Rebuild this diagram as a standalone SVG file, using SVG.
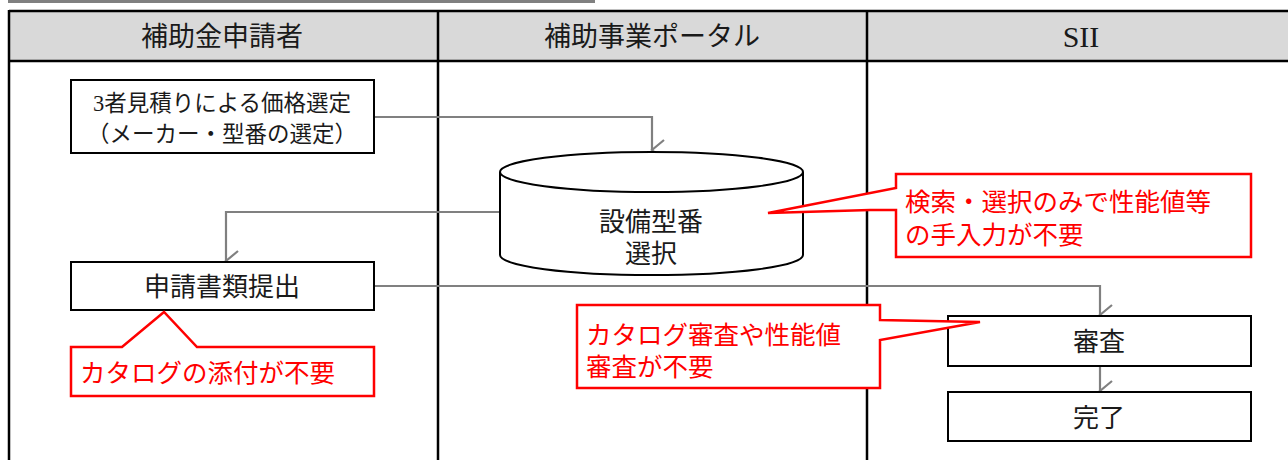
<svg xmlns="http://www.w3.org/2000/svg" width="1288" height="460" viewBox="0 0 1288 460">
<style>
.lane{fill:none;stroke:#000;stroke-width:2.5}
.hdr{fill:#d9d9d9}
.ht{font-family:"Liberation Serif","Noto Sans CJK JP",serif;font-size:27px;fill:#1a1a1a;text-anchor:middle}
.hs{font-family:"Liberation Serif",serif;font-size:30px;fill:#1a1a1a;text-anchor:middle}
.box{fill:#fff;stroke:#000;stroke-width:2}
.bt{font-family:"Liberation Serif","Noto Sans CJK JP",serif;font-size:26px;fill:#1a1a1a;text-anchor:middle}
.bt2{font-family:"Liberation Serif","Noto Sans CJK JP",serif;font-size:22.5px;fill:#1a1a1a;text-anchor:middle}
.co{fill:#fff;stroke:#ff0000;stroke-width:2.5;stroke-linejoin:miter}
.ct{font-family:"Liberation Serif","Noto Sans CJK JP",serif;font-size:25.5px;fill:#ff0000}
.cn{fill:none;stroke:#808080;stroke-width:2.2;marker-end:url(#arr)}
</style>
<defs>
<marker id="arr" viewBox="0 0 24 16" refX="12" refY="14" markerWidth="24" markerHeight="16" markerUnits="userSpaceOnUse" orient="auto-start-reverse">
<path d="M2,2 L12,14 L22,2" fill="none" stroke="#808080" stroke-width="2.2"/>
</marker>
</defs>
<rect x="8" y="0" width="587" height="3" fill="#808080"/>
<g id="lanes">
<rect class="hdr" x="9" y="11" width="1290" height="50"/>
<line class="lane" x1="9" y1="11" x2="1288" y2="11"/>
<line class="lane" x1="9" y1="61" x2="1288" y2="61"/>
<line class="lane" x1="9" y1="10" x2="9" y2="460"/>
<line class="lane" x1="438" y1="10" x2="438" y2="460"/>
<line class="lane" x1="867" y1="10" x2="867" y2="460"/>
<text class="ht" x="222" y="46">補助金申請者</text>
<text class="ht" x="652" y="46">補助事業ポータル</text>
<text class="hs" x="1081" y="47">SII</text>
</g>
<g id="connectors">
<path class="cn" d="M374,117 H652 V150"/>
<path class="cn" d="M500,212 H226 V261"/>
<path class="cn" d="M374,286 H1100 V315"/>
<path class="cn" d="M1100,366 V391"/>
</g>
<g id="n1">
<rect class="box" x="71" y="80" width="303" height="73"/>
<text class="bt2" x="222" y="111">3者見積りによる価格選定</text>
<text class="bt2" x="222" y="142">（メーカー・型番の選定）</text>
</g>
<g id="n2">
<path class="box" d="M500,172 V255 A151.5,20 0 0 0 803,255 V172"/>
<ellipse class="box" cx="651.5" cy="172" rx="151.5" ry="20"/>
<text class="bt" x="651" y="231">設備型番</text>
<text class="bt" x="651" y="263">選択</text>
</g>
<g id="n3">
<rect class="box" x="71" y="262" width="303" height="48"/>
<text class="bt" x="222" y="296">申請書類提出</text>
</g>
<g id="n4">
<rect class="box" x="948" y="316" width="303" height="50"/>
<text class="bt" x="1099" y="351">審査</text>
</g>
<g id="n5">
<rect class="box" x="948" y="392" width="303" height="49"/>
<text class="bt" x="1099" y="427">完了</text>
</g>
<g id="c1">
<path class="co" d="M71,347 H122 L164,312 L197,347 H374 V396 H71 Z"/>
<text class="ct" x="80" y="382">カタログの添付が不要</text>
</g>
<g id="c2">
<path class="co" d="M896,174 H1251 V257 H896 V210 H870 L768,213 L896,188 Z"/>
<text class="ct" x="905" y="211">検索・選択のみで性能値等</text>
<text class="ct" x="905" y="244">の手入力が不要</text>
</g>
<g id="c3">
<path class="co" d="M577,305 H880 V320 L980,322 L880,340 V388 H577 Z"/>
<text class="ct" x="586" y="344">カタログ審査や性能値</text>
<text class="ct" x="586" y="376">審査が不要</text>
</g>
</svg>
